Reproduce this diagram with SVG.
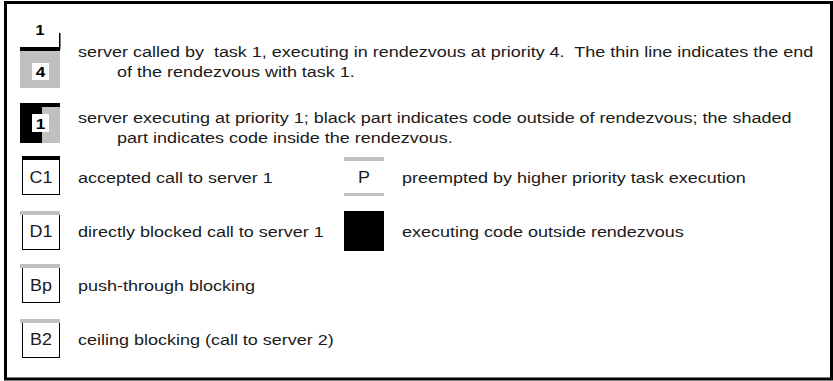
<svg xmlns="http://www.w3.org/2000/svg" width="833" height="381" viewBox="0 0 833 381">
<style>
text{font-family:"Liberation Sans",Arial,sans-serif;fill:#1a1a1a;white-space:pre}
.d{font-size:15px}
.lb{font-size:16px;text-anchor:middle}
.bd{font-size:15px;font-weight:bold;text-anchor:middle;fill:#000}
.gray{fill:#c0c0c0}
.box{fill:#fff;stroke:#000;stroke-width:1}
</style>
<rect x="5.5" y="2.5" width="826" height="376.5" fill="#fff" stroke="#000" stroke-width="3"/>
<g id="legend-server-called">
<rect class="gray" x="20" y="50" width="40" height="38"/>
<rect x="20" y="47" width="40" height="4" fill="#000"/>
<rect x="59" y="33" width="1.5" height="16" fill="#000"/>
<text class="bd" transform="translate(40,35) scale(1.15,1)" style="font-size:14px">1</text>
<rect x="32" y="63" width="17" height="17" fill="#fff"/>
<text class="bd" transform="translate(40.5,77) scale(1.15,1)">4</text>
<text class="d" transform="translate(78,56.5) scale(1.2,1)">server called by  task 1, executing in rendezvous at priority 4.  The thin line indicates the end</text>
<text class="d" transform="translate(117,76.5) scale(1.2,1)">of the rendezvous with task 1.</text>
</g>
<g id="legend-server-executing">
<rect x="20" y="103" width="40" height="40" fill="#000"/>
<rect class="gray" x="42" y="107" width="18" height="36"/>
<rect x="32" y="114" width="17" height="18" fill="#fff"/>
<text class="bd" transform="translate(40.5,129) scale(1.15,1)">1</text>
<text class="d" transform="translate(78,122.5) scale(1.2,1)">server executing at priority 1; black part indicates code outside of rendezvous; the shaded</text>
<text class="d" transform="translate(117,142.5) scale(1.2,1)">part indicates code inside the rendezvous.</text>
</g>
<g id="legend-c1">
<rect class="box" x="22.5" y="157.5" width="37" height="37"/>
<rect x="22" y="156" width="38" height="4" fill="#000"/>
<text class="lb" transform="translate(41,183) scale(1.12,1)">C1</text>
<text class="d" transform="translate(78,183) scale(1.2,1)">accepted call to server 1</text>
</g>
<g id="legend-d1">
<rect class="box" x="22.5" y="213.5" width="37" height="36"/>
<rect class="gray" x="20" y="211" width="40" height="4"/>
<text class="lb" transform="translate(41,237) scale(1.12,1)">D1</text>
<text class="d" transform="translate(78,237) scale(1.2,1)">directly blocked call to server 1</text>
</g>
<g id="legend-bp">
<rect class="box" x="22.5" y="266.5" width="37" height="36"/>
<rect class="gray" x="20" y="264" width="40" height="4"/>
<text class="lb" transform="translate(41,291) scale(1.12,1)">Bp</text>
<text class="d" transform="translate(78,291) scale(1.2,1)">push-through blocking</text>
</g>
<g id="legend-b2">
<rect class="box" x="22.5" y="321.5" width="37" height="36"/>
<rect class="gray" x="20" y="319" width="40" height="4"/>
<text class="lb" transform="translate(41,345) scale(1.12,1)">B2</text>
<text class="d" transform="translate(78,345) scale(1.2,1)">ceiling blocking (call to server 2)</text>
</g>
<g id="legend-p">
<rect class="gray" x="344" y="157" width="40" height="4"/>
<rect class="gray" x="344" y="193" width="40" height="3"/>
<text class="lb" transform="translate(364,183) scale(1.12,1)">P</text>
<text class="d" transform="translate(402,183) scale(1.2,1)">preempted by higher priority task execution</text>
</g>
<g id="legend-exec">
<rect x="344" y="211" width="40" height="40" fill="#000"/>
<text class="d" transform="translate(402,237) scale(1.2,1)">executing code outside rendezvous</text>
</g>
<g id="connectors"/>
</svg>
